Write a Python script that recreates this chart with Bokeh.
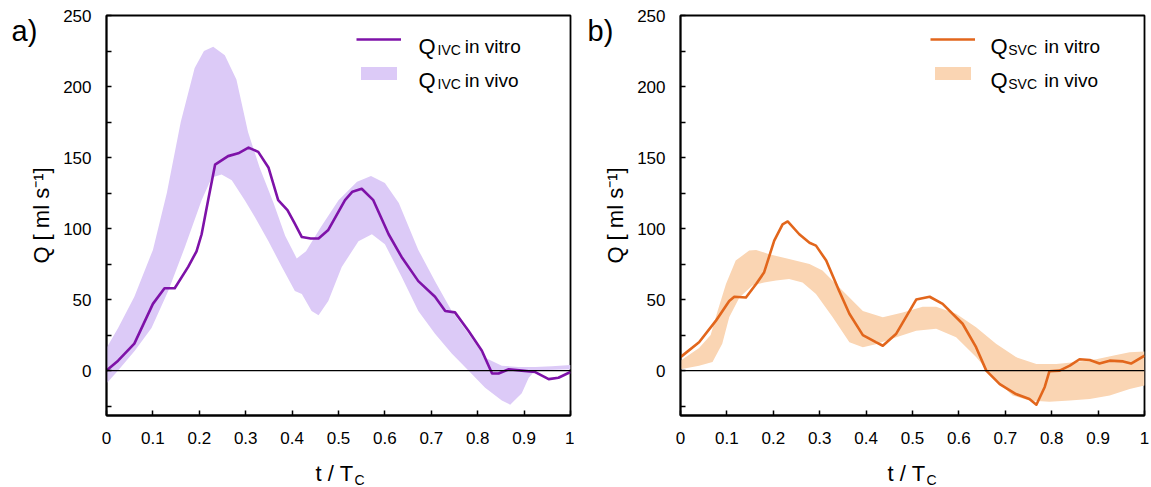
from bokeh.plotting import figure
from bokeh.models import (Range1d, FixedTicker, NumeralTickFormatter, Span, Label,
                          Legend, LegendItem)
from bokeh.layouts import row
from bokeh.embed import file_html
from bokeh.resources import INLINE

FONT = "Liberation Sans"

# ---------------- data ----------------
X_TICKS = [0, 0.1, 0.2, 0.3, 0.4, 0.5, 0.6, 0.7, 0.8, 0.9, 1]
Y_TICKS = [0, 50, 100, 150, 200, 250]
Y_MINOR = [-25, 25, 75, 125, 175, 225]

# IVC in vitro
ivc_vitro_t = [0, 0.025, 0.06, 0.10, 0.125, 0.147, 0.176, 0.194, 0.205, 0.219, 0.234, 0.262,
               0.284, 0.306, 0.327, 0.349, 0.37, 0.39, 0.405, 0.421, 0.44, 0.457, 0.478, 0.514,
               0.53, 0.55, 0.575, 0.608, 0.636, 0.672, 0.708, 0.73, 0.751, 0.78, 0.809, 0.831,
               0.845, 0.867, 0.895, 0.924, 0.953, 0.974, 1.0]
ivc_vitro_q = [0, 7, 19, 47, 58, 58, 73, 84, 96, 120, 145, 151,
               153, 157, 154, 143, 120, 113, 104, 94, 93, 93, 99, 120,
               126, 128, 120, 96, 80, 63, 52, 42, 41, 28, 14, -2,
               -2, 1, 0, -1, -6, -5, -1]

# IVC in vivo band
ivc_up_t = [0, 0.025, 0.06, 0.10, 0.13, 0.16, 0.19, 0.21, 0.23, 0.255, 0.28, 0.305, 0.33,
            0.36, 0.385, 0.41, 0.43, 0.46, 0.5, 0.54, 0.57, 0.6, 0.63, 0.672, 0.708, 0.744,
            0.78, 0.816, 0.852, 0.888, 0.924, 0.96, 1.0]
ivc_up_q = [16, 30, 52, 85, 125, 175, 213, 225, 228, 222, 205, 168, 143,
            118, 95, 79, 84, 100, 120, 133, 137, 132, 118, 85, 63, 42,
            26, 9, 3.5, 2.5, 2.5, 3, 4]
ivc_lo_t = [0, 0.025, 0.061, 0.097, 0.133, 0.169, 0.205, 0.227, 0.248, 0.27, 0.298, 0.32,
            0.349, 0.378, 0.406, 0.421, 0.442, 0.457, 0.478, 0.507, 0.543, 0.572, 0.60,
            0.636, 0.672, 0.708, 0.744, 0.78, 0.816, 0.852, 0.87, 0.895, 0.91, 0.924, 0.95, 1.0]
ivc_lo_q = [-9, 0, 14, 30, 56, 87, 120, 136, 138, 134, 120, 108,
            91, 73, 56, 54, 42, 39, 49, 73, 91, 96, 89,
            66, 42, 26, 12, 0, -12, -21, -24, -16, -5, 0, 0.5, 1]

# SVC in vitro
svc_vitro_t = [0, 0.04, 0.076, 0.105, 0.116, 0.141, 0.163, 0.18, 0.202, 0.22, 0.231, 0.256,
               0.278, 0.292, 0.314, 0.342, 0.364, 0.393, 0.421, 0.436, 0.465, 0.508, 0.537,
               0.565, 0.608, 0.637, 0.659, 0.688, 0.723, 0.752, 0.767, 0.785, 0.795, 0.817,
               0.839, 0.86, 0.882, 0.903, 0.925, 0.954, 0.971, 1.0]
svc_vitro_q = [9.5, 20, 35, 49, 52, 51.5, 61, 69, 91.5, 103, 105, 96,
               90, 88, 77.5, 56, 40, 25, 20, 17.5, 26, 50, 52,
               47, 33, 16.5, 0, -9.5, -16.5, -20, -24, -11.5, -0.5, 0,
               3.5, 8, 7.5, 5, 7, 6.5, 5, 10.5]

# SVC in vivo band
svc_up_t = [0, 0.04, 0.065, 0.08, 0.098, 0.119, 0.148, 0.163, 0.191, 0.234, 0.278, 0.306,
            0.35, 0.393, 0.436, 0.479, 0.522, 0.551, 0.594, 0.637, 0.68, 0.723, 0.767, 0.81,
            0.853, 0.896, 0.939, 0.968, 1.0]
svc_up_q = [7, 16, 25, 42, 61, 77.5, 84.5, 85, 82, 78.5, 75, 70.5,
            56, 42, 37.5, 41, 45, 45, 40, 30.5, 19, 9.5, 4.7, 4.7,
            6, 8, 11, 13, 13.5]
svc_lo_t = [0, 0.04, 0.069, 0.09, 0.105, 0.127, 0.155, 0.18, 0.206, 0.234, 0.263, 0.292,
            0.328, 0.364, 0.393, 0.421, 0.465, 0.508, 0.551, 0.594, 0.637, 0.68, 0.716,
            0.752, 0.795, 0.839, 0.882, 0.925, 0.968, 1.0]
svc_lo_q = [1, 3.5, 6, 19, 37.5, 51.5, 60, 62, 63.5, 64.5, 62, 54,
            37.5, 20, 16.5, 18.5, 23.5, 28, 29.5, 23.5, 9.5, -7, -17.5,
            -21, -22, -21, -20, -17.5, -13, -10.5]

IVC_LINE = "#7e12a8"
IVC_BAND = "#dccaf7"
SVC_LINE = "#e2661c"
SVC_BAND = "#fad5b3"


def lab(p, x, y, text, size, align="left", place="center"):
    p.add_layout(Label(x=x, y=y, text=text, text_font=FONT,
                       text_font_size=size, text_color="black", text_align=align,
                       text_baseline="alphabetic"), place)


def make_panel(tag, vt, vq, ut, uq, lt, lq, line_color, band_color, sub, border_right,
               qx, subx, txtx, tx):
    p = figure(frame_width=464, frame_height=400, min_border_left=105,
               min_border_right=border_right, min_border_top=15, min_border_bottom=72,
               x_range=Range1d(0, 1), y_range=Range1d(-31.6, 250),
               output_backend="svg", toolbar_location=None)
    p.grid.visible = False
    p.outline_line_color = "black"
    p.outline_line_width = 1.8
    p.background_fill_color = "white"
    p.border_fill_color = "white"

    band = p.patch(x=ut + lt[::-1], y=uq + lq[::-1], fill_color=band_color, line_color=None)
    ln = p.line(vt, vq, line_color=line_color, line_width=2.6, line_join="round")
    p.add_layout(Span(location=0, dimension="width", line_color="black", line_width=1.2))

    for ax in (p.xaxis[0], p.yaxis[0]):
        ax.axis_line_color = "black"
        ax.axis_line_width = 1.8
        ax.major_tick_in = 5
        ax.major_tick_out = 0
        ax.major_tick_line_width = 1.5
        ax.major_label_text_font = FONT
        ax.major_label_text_font_size = "17px"
        ax.major_label_text_color = "black"
    p.xaxis.major_label_standoff = 16
    p.yaxis.major_label_standoff = 15
    p.xaxis.ticker = FixedTicker(ticks=X_TICKS)
    p.xaxis.formatter = NumeralTickFormatter(format="0.[0]")
    p.xaxis.minor_tick_line_color = None
    p.yaxis.ticker = FixedTicker(ticks=Y_TICKS, minor_ticks=Y_MINOR)
    p.yaxis.minor_tick_in = 5
    p.yaxis.minor_tick_out = 0
    p.yaxis.minor_tick_line_width = 1.5
    p.yaxis.axis_label = "Q [ ml s\u207b\u00b9]"
    p.yaxis.axis_label_text_font = FONT
    p.yaxis.axis_label_text_font_size = "22px"
    p.yaxis.axis_label_text_font_style = "normal"
    p.yaxis.axis_label_text_color = "black"
    p.yaxis.axis_label_standoff = 6

    legend = Legend(items=[LegendItem(label=" ", renderers=[ln]),
                           LegendItem(label=" ", renderers=[band])],
                    location=(250, 334), orientation="vertical",
                    glyph_width=45, glyph_height=16, label_height=16, label_width=0,
                    label_standoff=0, spacing=18, padding=0, margin=0,
                    border_line_color=None, background_fill_alpha=0,
                    label_text_font_size="1px")
    p.add_layout(legend)

    # legend texts with subscripts
    lab(p, qx, 228.2, "Q", "22px")
    lab(p, subx, 225.6, sub, "14px")
    lab(p, txtx, 228.2, "in vitro", "19px")
    lab(p, qx, 204.2, "Q", "22px")
    lab(p, subx, 201.6, sub, "14px")
    lab(p, txtx, 204.2, "in vivo", "19px")

    # panel tag and x axis title (outside the frame -> side panels, unclipped)
    lab(p, -0.2047 if tag == "a)" else -0.2004, 239.4, tag, "29px", place="left")
    lab(p, tx, -72.4, "t / T", "22px", align="right", place="below")
    lab(p, tx + 0.002, -77.2, "C", "14px", place="below")
    return p


p1 = make_panel("a)", ivc_vitro_t, ivc_vitro_q, ivc_up_t, ivc_up_q, ivc_lo_t, ivc_lo_q,
                IVC_LINE, IVC_BAND, "IVC", 4, 0.6724, 0.7134, 0.7722, 0.5323)
p2 = make_panel("b)", svc_vitro_t, svc_vitro_q, svc_up_t, svc_up_q, svc_lo_t, svc_lo_q,
                SVC_LINE, SVC_BAND, "SVC", 5, 0.668, 0.7063, 0.7838, 0.528)

layout = row(p1, p2, spacing=0)
open("out.html", "w").write(file_html(layout, INLINE))
